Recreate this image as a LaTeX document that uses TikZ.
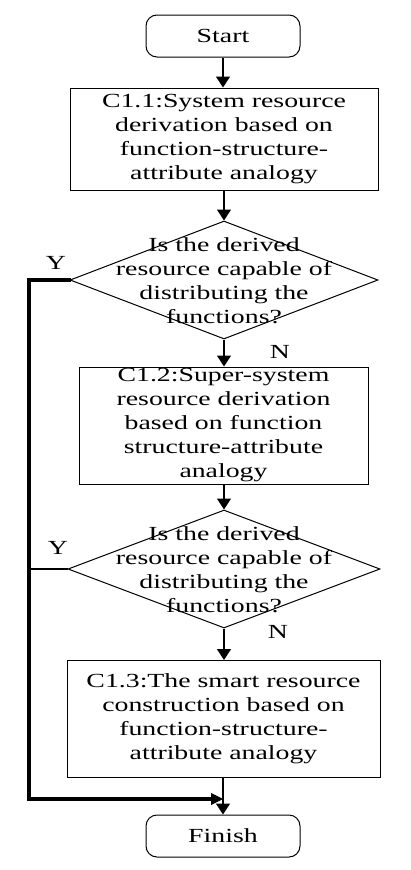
\documentclass[tikz,border=0pt]{standalone}
\usepackage{fontspec}
\setmainfont[FakeStretch=1.39]{Liberation Serif}
\usetikzlibrary{arrows.meta,shapes.geometric}
\begin{document}
\begin{tikzpicture}[x=1pt,y=-1pt,
  txt/.style={font=\fontsize{20}{24}\selectfont, align=center, inner sep=0pt},
  term/.style={draw, line width=1pt, rounded corners=11pt, minimum width=154pt, minimum height=42pt, inner sep=0pt, font=\fontsize{20}{24}\selectfont},
  procbox/.style={draw, line width=1pt, inner sep=0pt},
  decis/.style={draw, diamond, line width=1pt, inner sep=0pt},
  flow/.style={line width=1.3pt, -{Triangle[width=14pt,length=11pt]}},
  back/.style={line width=3.5pt},
  lab/.style={font=\fontsize{20}{24}\selectfont, inner sep=0pt}
]
\useasboundingbox (0,0) rectangle (410,870);
\node[term] (start) at (223,36) {Start};
\node[procbox, minimum width=308pt, minimum height=102pt] (b1) at (224,139) {};
\node[txt] at (b1) {C1.1:System resource\\derivation based on\\function-structure-\\attribute analogy};
\node[decis, minimum width=308pt, minimum height=118pt] (d1) at (224,280) {};
\node[txt] at (224,281) {Is the derived\\resource capable of\\distributing the\\functions?};
\node[procbox, minimum width=289pt, minimum height=117pt] (b2) at (223.5,425.5) {};
\node[txt] at (b2) {C1.2:Super-system\\resource derivation\\based on function\\structure-attribute\\analogy};
\node[decis, minimum width=312pt, minimum height=118pt] (d2) at (224,569) {};
\node[txt] at (224,570) {Is the derived\\resource capable of\\distributing the\\functions?};
\node[procbox, minimum width=313pt, minimum height=117pt] (b3) at (223.5,719) {};
\node[txt] at (b3) {C1.3:The smart resource\\construction based on\\function-structure-\\attribute analogy};
\node[term] (fin) at (223,836) {Finish};
\node[lab] (n1) at (280,352) {N};
\node[lab] (n2) at (278,632) {N};
\node[lab] (y1) at (56,263) {Y};
\node[lab] (y2) at (58,548) {Y};
\coordinate (c1) at (29,280);
\coordinate (c2) at (29,569);
\coordinate (c3) at (29,799);
\coordinate (c4) at (223,799);
\draw[flow] (start.south) -- (b1.north -| start.south);
\draw[flow] (b1.south -| d1.north) -- (d1.north);
\draw[flow] (d1.south) -- (b2.north -| d1.south);
\draw[flow] (b2.south -| d2.north) -- (d2.north);
\draw[flow] (d2.south) -- (b3.north -| d2.south);
\draw[flow] (b3.south -| fin.north) -- (fin.north);
\draw[back, line cap=rect] (d1.west) -- (c1) -- (c3) -- ([xshift=-8pt]c4);
\draw[line width=2pt] (d2.west) -- (c2);
\draw[-{Triangle[width=12pt,length=12pt]}, line width=1pt] ([xshift=-12pt]c4) -- (c4);
\end{tikzpicture}
\end{document}
